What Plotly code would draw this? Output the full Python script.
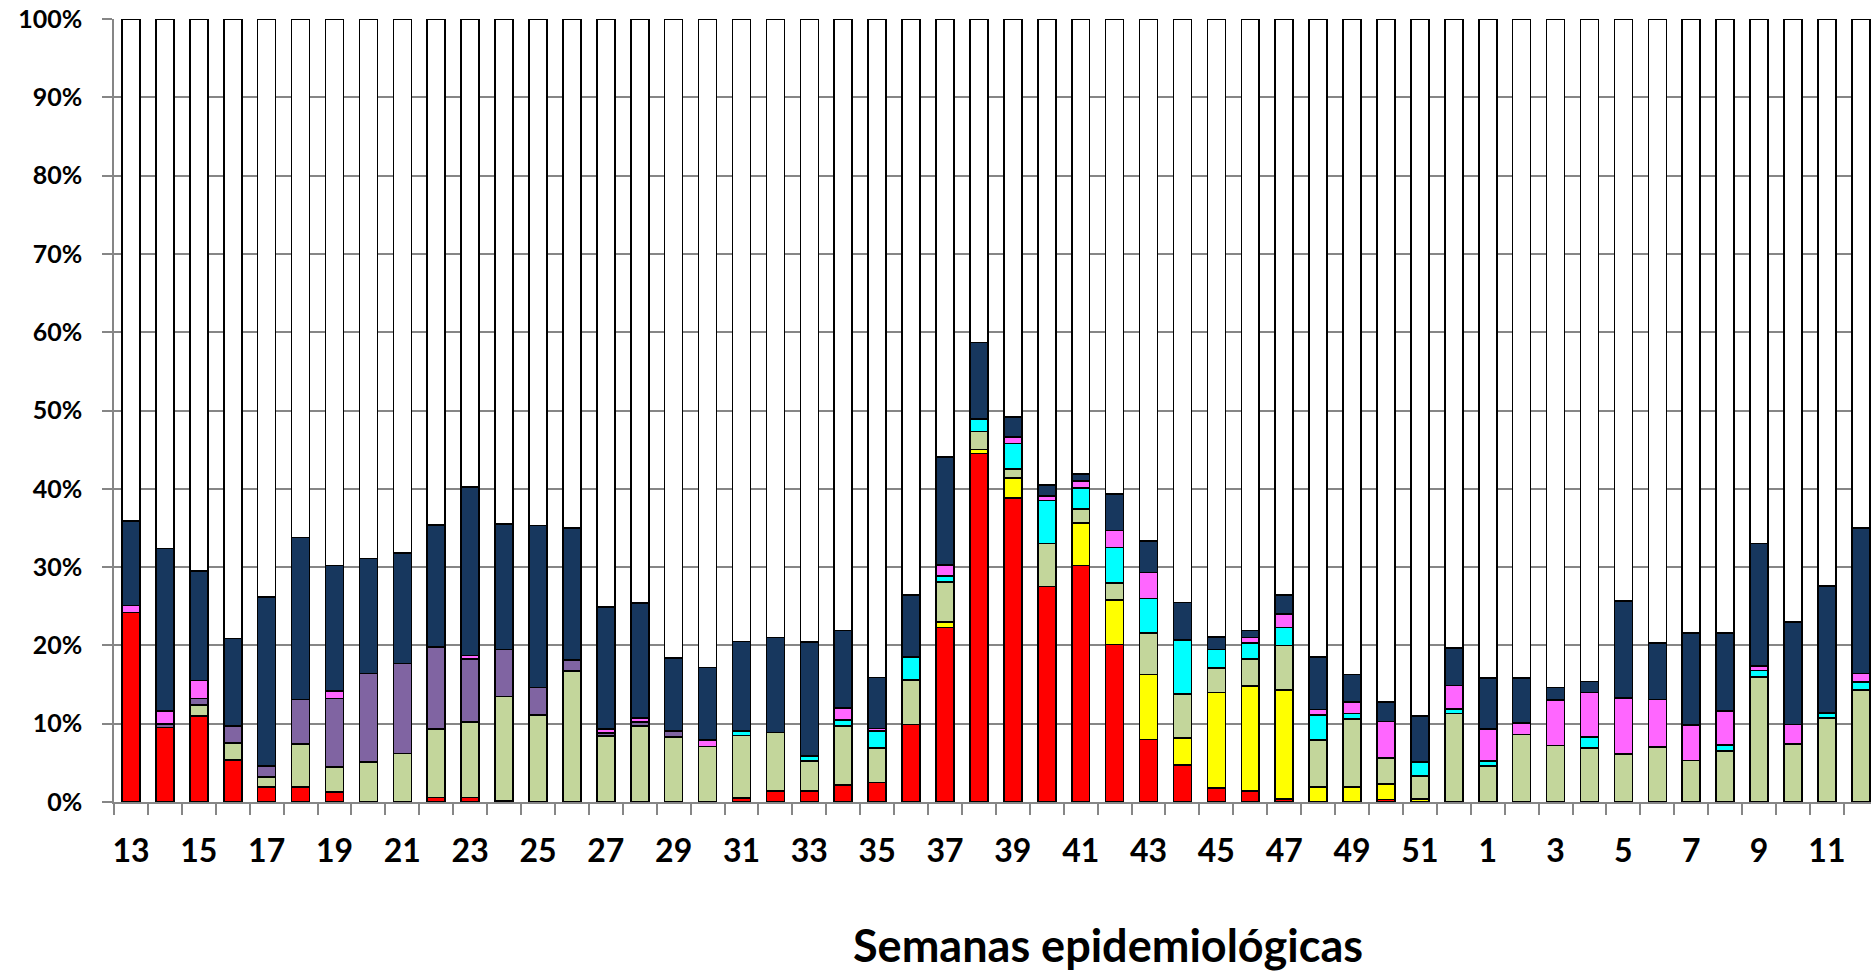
import plotly.graph_objects as go

# semanas epidemiológicas (13..52 y luego 1..12)
weeks = ["13", "14", "15", "16", "17", "18", "19", "20", "21", "22", "23", "24", "25", "26",
         "27", "28", "29", "30", "31", "32", "33", "34", "35", "36", "37", "38", "39", "40",
         "41", "42", "43", "44", "45", "46", "47", "48", "49", "50", "51", "52",
         "1", "2", "3", "4", "5", "6", "7", "8", "9", "10", "11", "12"]

# porcentaje de cada segmento (de abajo hacia arriba)
red = [24.2, 9.5, 11.0, 5.4, 1.9, 1.9, 1.3, 0, 0, 0.6, 0.6, 0.2, 0, 0,
       0, 0, 0, 0, 0.5, 1.4, 1.4, 2.2, 2.5, 9.9, 22.3, 44.5, 38.8, 27.5,
       30.2, 20.1, 8.0, 4.7, 1.8, 1.4, 0.4, 0, 0, 0.3, 0, 0,
       0, 0, 0, 0, 0, 0, 0, 0, 0, 0, 0, 0]
yellow = [0, 0, 0, 0, 0, 0, 0, 0, 0, 0, 0, 0, 0, 0,
          0, 0, 0, 0, 0, 0, 0, 0, 0, 0, 0.7, 0.5, 2.6, 0,
          5.4, 5.7, 8.3, 3.5, 12.2, 13.4, 13.9, 1.9, 1.9, 2.0, 0.4, 0,
          0, 0, 0, 0, 0, 0, 0, 0, 0, 0, 0, 0]
green = [0, 0, 1.4, 2.1, 1.3, 5.5, 3.2, 5.1, 6.2, 8.7, 9.6, 13.3, 11.1, 16.7,
         8.4, 9.7, 8.3, 7.1, 8.0, 7.5, 3.8, 7.5, 4.4, 5.7, 5.1, 2.3, 1.1, 5.5,
         1.8, 2.2, 5.3, 5.6, 3.1, 3.5, 5.7, 6.0, 8.7, 3.3, 2.9, 11.3,
         4.6, 8.6, 7.2, 6.9, 6.1, 7.0, 5.3, 6.5, 16.0, 7.4, 10.7, 14.3]
purple = [0, 0.5, 0.8, 2.2, 1.4, 5.7, 8.7, 11.3, 11.5, 10.5, 8.1, 6.0, 3.5, 1.4,
          0.4, 0.5, 0.8, 0, 0, 0, 0, 0, 0, 0, 0, 0, 0, 0,
          0, 0, 0, 0, 0, 0, 0, 0, 0, 0, 0, 0,
          0, 0, 0, 0, 0, 0, 0, 0, 0, 0, 0, 0]
cyan = [0, 0, 0, 0, 0, 0, 0, 0, 0, 0, 0, 0, 0, 0,
        0, 0, 0, 0, 0.6, 0, 0.7, 0.8, 2.2, 2.9, 0.8, 1.6, 3.3, 5.5,
        2.7, 4.5, 4.4, 6.9, 2.4, 2.0, 2.3, 3.2, 0.7, 0, 1.8, 0.6,
        0.6, 0, 0, 1.4, 0, 0, 0, 0.8, 0.8, 0, 0.7, 1.0]
magenta = [0.9, 1.6, 2.3, 0, 0, 0, 1.0, 0, 0, 0, 0.4, 0, 0, 0,
           0.5, 0.5, 0, 0.8, 0, 0, 0, 1.5, 0.3, 0, 1.4, 0, 0.8, 0.6,
           0.9, 2.2, 3.3, 0, 0, 0.7, 1.7, 0.7, 1.5, 4.7, 0, 3.0,
           4.1, 1.5, 5.8, 5.7, 7.2, 6.1, 4.5, 4.3, 0.6, 2.5, 0, 1.1]
navy = [10.8, 20.8, 14.0, 11.2, 21.6, 20.7, 16.0, 14.7, 14.1, 15.6, 21.5, 16.0, 20.7, 16.9,
        15.6, 14.7, 9.3, 9.3, 11.4, 12.1, 14.5, 9.9, 6.5, 7.9, 13.8, 9.8, 2.6, 1.4,
        0.9, 4.6, 4.0, 4.8, 1.6, 0.9, 2.4, 6.7, 3.5, 2.5, 5.9, 4.8,
        6.5, 5.7, 1.6, 1.4, 12.4, 7.2, 11.8, 10.0, 15.6, 13.1, 16.2, 18.6]
white = [64.1, 67.6, 70.5, 79.1, 73.8, 66.2, 69.8, 68.9, 68.2, 64.6, 59.8, 64.5, 64.7, 65.0,
         75.1, 74.6, 81.6, 82.8, 79.5, 79.0, 79.6, 78.1, 84.1, 73.6, 55.9, 41.3, 50.8, 59.5,
         58.1, 60.7, 66.7, 74.5, 78.9, 78.1, 73.6, 81.5, 83.7, 87.2, 89.0, 80.3,
         84.2, 84.2, 85.4, 84.6, 74.3, 79.7, 78.4, 78.4, 67.0, 77.0, 72.4, 65.0]

series = [
    (red, "#FF0000"),
    (yellow, "#FFFF00"),
    (green, "#C3D69B"),
    (purple, "#8064A2"),
    (cyan, "#00FFFF"),
    (magenta, "#FF66FF"),
    (navy, "#17375E"),
    (white, "#FFFFFF"),
]

xpos = list(range(len(weeks)))
font_family = "Lato, 'Open Sans', 'DejaVu Sans', sans-serif"

fig = go.Figure()
for vals, col in series:
    fig.add_trace(go.Bar(
        x=xpos, y=vals, width=0.53,
        marker=dict(color=col, line=dict(color="black", width=1.6)),
        showlegend=False,
    ))

fig.update_layout(
    barmode="stack",
    width=1871, height=972,
    margin=dict(l=114, r=0, t=19, b=170),
    plot_bgcolor="white", paper_bgcolor="white",
    font=dict(family=font_family, color="black"),
)

fig.update_xaxes(
    range=[-0.5, 51.3],
    tickmode="array",
    tickvals=xpos[::2],
    ticktext=weeks[::2],
    ticks="",
    tickfont=dict(size=32, weight="bold"),
    ticklabelstandoff=20,
    showline=True, linecolor="#868686", linewidth=1.5,
    showgrid=False, zeroline=False,
    minor=dict(tickmode="linear", tick0=-0.5, dtick=1, ticks="outside",
               ticklen=11, tickcolor="#868686", tickwidth=1.5, showgrid=False),
)

fig.update_yaxes(
    range=[0, 100],
    tickmode="linear", tick0=0, dtick=10,
    ticksuffix="%",
    ticks="outside", ticklen=10, tickcolor="#868686", tickwidth=1.5,
    tickfont=dict(size=25, weight="bold"),
    ticklabelstandoff=15,
    showline=True, linecolor="#868686", linewidth=1.5,
    showgrid=True, gridcolor="#868686", gridwidth=1.5,
    zeroline=False,
)

fig.add_annotation(
    text="Semanas epidemiológicas",
    xref="paper", yref="paper", x=0.566, y=-0.183,
    xanchor="center", yanchor="middle", showarrow=False,
    font=dict(size=45, weight="bold", family=font_family),
)

fig.write_html("out.html", config={"displayModeBar": False},
               post_script="document.body.style.margin='0';")
